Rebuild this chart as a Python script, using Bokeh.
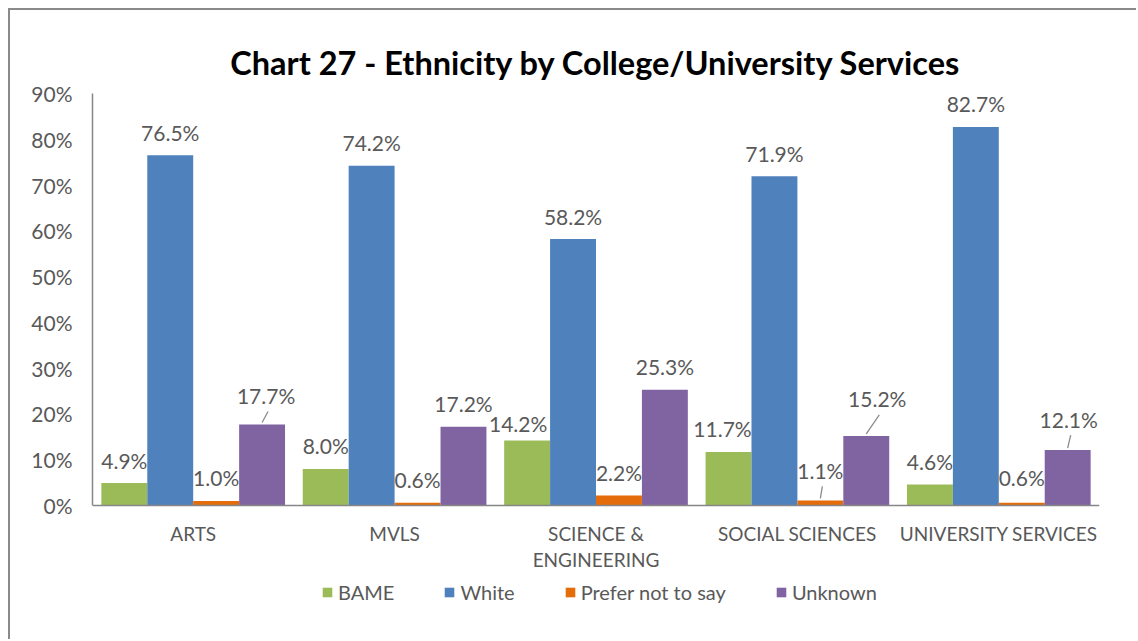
from bokeh.plotting import figure
from bokeh.models import (ColumnDataSource, FactorRange, Legend, LegendItem, FixedTicker,
                          PrintfTickFormatter, Span)
from bokeh.transform import dodge
from bokeh.core.properties import value
from bokeh.embed import file_html
from bokeh.resources import INLINE

# ---- data ----
categories = ["ARTS", "MVLS", "SCIENCE & ENGINEERING", "SOCIAL SCIENCES", "UNIVERSITY SERVICES"]
cat_line1 = ["ARTS", "MVLS", "SCIENCE &", "SOCIAL SCIENCES", "UNIVERSITY SERVICES"]
cat_line2 = ["", "", "ENGINEERING", "", ""]
series_names = ["BAME", "White", "Prefer not to say", "Unknown"]
bame = [4.9, 8.0, 14.2, 11.7, 4.6]
white = [76.5, 74.2, 58.2, 71.9, 82.7]
prefer = [1.0, 0.6, 2.2, 1.1, 0.6]
unknown = [17.7, 17.2, 25.3, 15.2, 12.1]
y_ticks = [0, 10, 20, 30, 40, 50, 60, 70, 80, 90]

# ---- styling / label placement (pixels) ----
colors = ["#9BBB59", "#4F81BD", "#E46C0A", "#8064A2"]
offsets = [-0.342, -0.114, 0.114, 0.342]
bar_w = 0.228
label_dx = [[0, 0, -9, -6, 0], [0, 0, 0, 0, 0], [0, 0, 0, 0, 0], [4, 0, 0, 11, 1]]
label_dy = [[0, 0, -6, 0, 0], [0, 0, 0, 0, 0], [0, 0, 0, 7, 2], [6, 0, 0, 14, 8]]
leaders = [(2, 3), (3, 0), (3, 3), (3, 4)]  # (series, category)

W, H = 1128, 631
LEFT, RIGHT, TOP = 82, 39, 83
PLOT_H = 412            # pixels from 0% to 90%
BELOW = H - TOP - PLOT_H  # pixels below the 0% line kept inside the frame
FRAME_W = W - LEFT - RIGHT
Y_MAX = 90
px_y = Y_MAX / PLOT_H
px_x = 1.0 / (FRAME_W / len(categories))
GRAY = "#595959"
AXIS = "#868686"
FONT = "Lato"

p = figure(x_range=FactorRange(factors=categories), y_range=(-BELOW * px_y, Y_MAX),
           width=W, height=H, output_backend="svg", toolbar_location=None,
           x_axis_location=None,
           min_border_left=LEFT, min_border_right=RIGHT, min_border_top=TOP, min_border_bottom=0)
p.styles = {"border-left": "2px solid #8a8a8a", "border-top": "2px solid #8a8a8a",
            "margin-left": "8px", "margin-top": "8px"}

p.title.text = "Chart 27 - Ethnicity by College/University Services"
p.title.align = "center"
p.title.text_font = FONT
p.title.text_font_style = "bold"
p.title.text_font_size = "32.5px"
p.title.text_color = "#000000"
p.title.standoff = 24

p.outline_line_color = None
p.grid.grid_line_color = None
p.background_fill_color = "white"
p.border_fill_color = "white"

yax = p.yaxis[0]
yax.bounds = (0, Y_MAX)
yax.axis_line_color = AXIS
yax.axis_line_width = 1.5
yax.major_tick_line_color = None
yax.minor_tick_line_color = None
yax.major_tick_out = 0
yax.major_tick_in = 0
yax.major_label_text_color = GRAY
yax.major_label_text_font = FONT
yax.major_label_text_font_size = "21px"
yax.major_label_standoff = 20
yax.ticker = FixedTicker(ticks=y_ticks)
yax.formatter = PrintfTickFormatter(format="%d%%")

# category axis line at 0%
p.add_layout(Span(location=0, dimension="width", line_color=AXIS, line_width=1.5))

# category labels
csrc = ColumnDataSource(dict(cat=categories, l1=cat_line1, l2=cat_line2))
p.text(x="cat", y=0, text="l1", source=csrc, y_offset=28, text_align="center",
       text_baseline="middle", text_font=value(FONT), text_font_size="19px", text_color=GRAY)
p.text(x="cat", y=0, text="l2", source=csrc, y_offset=54, text_align="center",
       text_baseline="middle", text_font=value(FONT), text_font_size="19px", text_color=GRAY)

all_series = [bame, white, prefer, unknown]
items = []
for s, (name, vals, col, off) in enumerate(zip(series_names, all_series, colors, offsets)):
    src = ColumnDataSource(dict(
        cat=categories, val=vals,
        lbl=["%.1f%%" % v for v in vals],
        dx=label_dx[s],
        dy=[-(23 + d) for d in label_dy[s]],
    ))
    r = p.vbar(x=dodge("cat", off, range=p.x_range), top="val", bottom=0, width=bar_w,
               source=src, fill_color=col, line_color=None)
    p.text(x=dodge("cat", off, range=p.x_range), y="val", text="lbl", source=src,
           x_offset="dx", y_offset="dy", text_align="center", text_baseline="middle",
           text_font=value(FONT), text_font_size="21px", text_color=GRAY)
    items.append(LegendItem(label=name, renderers=[r]))

for s, c in leaders:
    v = all_series[s][c]
    lsrc = ColumnDataSource(dict(cat=[categories[c]], y0=[v + 2 * px_y],
                                 y1=[v + (23 + label_dy[s][c] - 16) * px_y]))
    p.segment(x0=dodge("cat", offsets[s], range=p.x_range),
              x1=dodge("cat", offsets[s] + (label_dx[s][c] + 2) * px_x, range=p.x_range),
              y0="y0", y1="y1", source=lsrc, line_color="#8c8c8c", line_width=1.3)

legend = Legend(items=items, orientation="horizontal", location=(229, 37),
                padding=0, margin=0, spacing=49, glyph_width=12, glyph_height=12,
                label_standoff=5, label_text_font=FONT, label_text_font_size="20px",
                label_text_color=GRAY, label_height=20, background_fill_alpha=0,
                border_line_color=None)
p.add_layout(legend, "center")

open("out.html", "w").write(file_html(p, INLINE))
